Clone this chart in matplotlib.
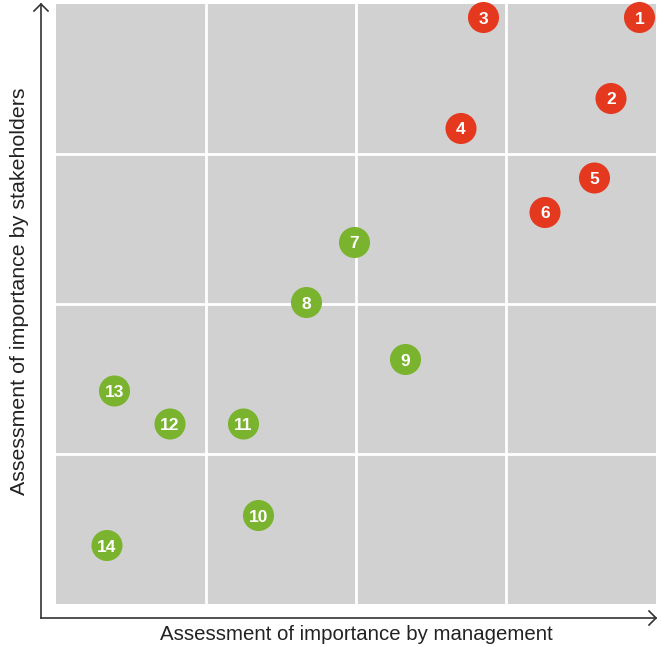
import numpy as np
import matplotlib.pyplot as plt

# materiality matrix: management (x) vs stakeholders (y), scale 0-4
labels = ['1', '2', '3', '4', '5', '6', '7', '8', '9', '10', '11', '12', '13', '14']
mgmt = [3.89, 3.70, 2.85, 2.70, 3.59, 3.26, 1.99, 1.67, 2.33, 1.35, 1.25, 0.76, 0.39, 0.34]
stake = [3.91, 3.37, 3.91, 3.17, 2.84, 2.61, 2.41, 2.01, 1.63, 0.59, 1.20, 1.20, 1.42, 0.39]
group = ['high'] * 6 + ['low'] * 8
colors = {'high': '#e5391f', 'low': '#7ab32e'}

W, H = 661, 647
fig = plt.figure(figsize=(W / 100, H / 100), dpi=100)
ax = fig.add_axes([56 / W, (H - 604) / H, 600 / W, 600 / H])
ax.set_facecolor('#d1d1d1')
ax.set_xlim(0, 4)
ax.set_ylim(0, 4)
for v in [1, 2, 3]:
    ax.axvline(v, color='white', lw=2, zorder=1)
    ax.axhline(v, color='white', lw=2, zorder=1)
for s in ax.spines.values():
    s.set_visible(False)
ax.set_xticks([])
ax.set_yticks([])

ax.scatter(mgmt, stake, s=500, c=[colors[g] for g in group], edgecolors='none',
           zorder=3, clip_on=False)
for lab, x, y in zip(labels, mgmt, stake):
    ax.text(x, y - 0.01, lab, color='white', fontsize=12.5, fontweight='bold',
            ha='center', va='center', family='Liberation Sans', zorder=4)

# axis arrows in figure pixels
def fx(p):
    return p / W

def fy(p):
    return 1 - p / H

fig.add_artist(plt.Line2D([fx(41), fx(41)], [fy(618), fy(4)], color='#333333', lw=1.2))
fig.add_artist(plt.Line2D([fx(41), fx(656)], [fy(618), fy(618)], color='#333333', lw=1.2))
fig.add_artist(plt.Line2D([fx(34), fx(41), fx(48)], [fy(11), fy(4), fy(11)], color='#333333', lw=1.2))
fig.add_artist(plt.Line2D([fx(649), fx(656), fx(649)], [fy(611), fy(618), fy(625)], color='#333333', lw=1.2))

fig.text(fx(356.5), fy(634), 'Assessment of importance by management', ha='center', va='center',
         fontsize=14.7, family='Liberation Sans', color='#222222')
fig.text(fx(20), fy(291), 'Assessment of importance by stakeholders', ha='center', va='center',
         rotation=90, fontsize=15.4, family='Liberation Sans', color='#222222')

fig.savefig('out.png', dpi=100)
